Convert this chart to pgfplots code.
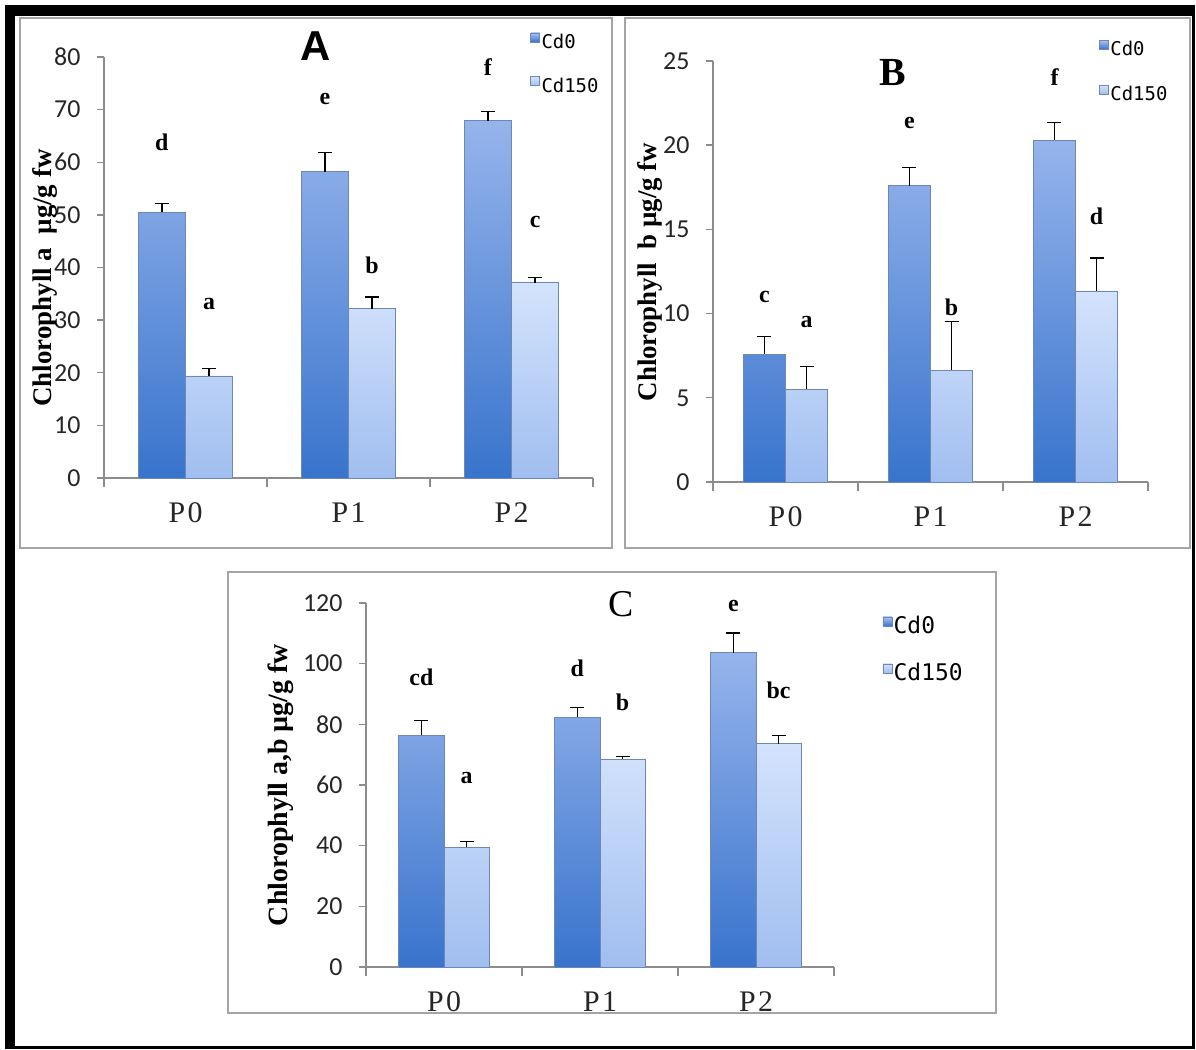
\documentclass[border=0pt]{standalone}
\usepackage{pgfplots}
\pgfplotsset{compat=1.18}
\usepackage{fontspec}
\setmainfont{Liberation Serif}
\newfontfamily\carlito{Carlito}
\newfontfamily\dmono{DejaVu Sans Mono}
\newfontfamily\lsans{Liberation Sans}
\newfontfamily\pfont[LetterSpace=8]{Liberation Serif}
\definecolor{axgray}{RGB}{140,140,140}
\definecolor{boxgray}{RGB}{165,165,165}
\definecolor{dkT}{RGB}{150,180,236}
\definecolor{dkB}{RGB}{56,116,204}
\definecolor{ltT}{RGB}{212,227,252}
\definecolor{ltB}{RGB}{160,190,240}
\definecolor{bedge}{RGB}{110,135,180}
\tikzset{lett/.style={font=\bfseries\fontsize{24}{24}\selectfont}}
\pgfplotsset{
  panel/.style={
    scale only axis, clip=false,
    axis x line=bottom, axis y line=left,
    axis line style={-, draw=axgray, line width=1.4bp},
    xmin=-0.5, xmax=2.5, ymin=0,
    xtick={0,1,2}, xticklabels={P0,P1,P2},
    minor xtick={-0.5,0.5,1.5,2.5},
    tick align=outside,
    major tick length=7bp, minor tick length=9bp,
    major x tick style={draw=none},
    minor x tick style={draw=axgray, line width=1.4bp},
    y tick style={draw=axgray, line width=1.4bp},
    ybar=0pt, bar width=0.29,
    /pgf/number format/assume math mode=true,
    yticklabel style={font=\carlito\fontsize{26}{26}\selectfont, text=black!85, xshift=-13bp},
    xticklabel style={font=\pfont\fontsize{30}{30}\selectfont, text=black!85, yshift=-14bp},
    legend cell align=left,
  },
  barcommon/.style={line width=0.6bp, draw=bedge,
    error bars/.cd, y dir=plus, y explicit,
    error bar style={black, line width=1.3bp},
    error mark options={black, rotate=90, mark size=7bp, line width=1.3bp}},
  cd0/.style={top color=dkT, bottom color=dkB, barcommon,
    /pgfplots/legend image code/.code={\fill[top color=dkT!80, bottom color=dkB] (0bp,0bp) rectangle (9bp,9bp);}},
  cd150/.style={top color=ltT, bottom color=ltB, barcommon,
    /pgfplots/legend image code/.code={\fill[top color=ltT, bottom color=ltB] (0bp,0bp) rectangle (9bp,9bp);}},
}
\begin{document}
\begin{tikzpicture}
\path[use as bounding box] (0,0) rectangle (1196bp,1050bp);
\fill[white] (0,0) rectangle (1196bp,1050bp);
% outer black frame
\fill[black] (5bp,1034bp) rectangle (1195bp,1045bp);
\fill[black] (5bp,1bp) rectangle (15bp,1045bp);
\fill[black] (1192bp,1bp) rectangle (1195bp,1045bp);
\fill[black] (5bp,1bp) rectangle (1195bp,4bp);
% panel boxes
\draw[boxgray, line width=1.5bp] (20bp,502bp) rectangle (612bp,1032bp);
\draw[boxgray, line width=1.5bp] (625bp,502bp) rectangle (1190bp,1032bp);
\draw[boxgray, line width=1.5bp] (228bp,37bp) rectangle (996bp,478bp);

% ---------------- Panel A
\begin{axis}[panel, at={(104bp,572bp)}, anchor=south west,
  width=489bp, height=421bp, ymax=80, ytick={0,10,...,80},
  legend style={draw=none, fill=none, inner sep=0pt, row sep=25bp,
    font=\dmono\fontsize{19}{19}\selectfont,
    nodes={inner sep=1.5bp},
    at={(axis cs:2.115,78.7)}, anchor=west}]
\addplot[cd0] coordinates {(0,50.5) +- (0,1.6) (1,58.2) +- (0,3.6) (2,67.9) +- (0,1.7)};
\addplot[cd150] coordinates {(0,19.4) +- (0,1.4) (1,32.2) +- (0,2.2) (2,37.1) +- (0,1.0)};
\legend{Cd0,Cd150}
\node[lett] at (axis cs:-0.145,63.8) {d};
\node[lett] at (axis cs:0.145,33) {a};
\node[lett] at (axis cs:0.855,72) {e};
\node[lett] at (axis cs:1.145,40.5) {b};
\node[lett] at (axis cs:1.855,78) {f};
\node[lett] at (axis cs:2.145,48.7) {c};
\node[font=\lsans\bfseries\fontsize{42}{42}\selectfont] at (axis cs:0.80,82.1) {A};
\end{axis}

% ---------------- Panel B
\begin{axis}[panel, at={(713bp,568bp)}, anchor=south west,
  width=435bp, height=421bp, ymax=25, ytick={0,5,...,25},
  legend style={draw=none, fill=none, inner sep=0pt, row sep=26bp,
    font=\dmono\fontsize{19}{19}\selectfont,
    nodes={inner sep=1.5bp},
    at={(axis cs:2.163,24.37)}, anchor=west}]
\addplot[cd0] coordinates {(0,7.6) +- (0,1.05) (1,17.6) +- (0,1.07) (2,20.3) +- (0,1.05)};
\addplot[cd150] coordinates {(0,5.5) +- (0,1.36) (1,6.65) +- (0,2.9) (2,11.35) +- (0,1.95)};
\legend{Cd0,Cd150}
\node[lett] at (axis cs:-0.145,11.0) {c};
\node[lett] at (axis cs:0.145,9.5) {a};
\node[lett] at (axis cs:0.855,21.3) {e};
\node[lett] at (axis cs:1.145,10.4) {b};
\node[lett] at (axis cs:1.855,24.05) {f};
\node[lett] at (axis cs:2.145,15.8) {d};
\node[font=\bfseries\fontsize{40}{40}\selectfont] at (axis cs:0.739,24.29) {B};
\end{axis}

% ---------------- Panel C
\begin{axis}[panel, at={(366bp,83bp)}, anchor=south west,
  width=468bp, height=364bp, ymax=120, ytick={0,20,...,120},
  legend style={draw=none, fill=none, inner sep=0pt, row sep=25bp,
    font=\dmono\fontsize{23}{23}\selectfont,
    nodes={inner sep=1.5bp},
    at={(axis cs:2.81,104.7)}, anchor=west}]
\addplot[cd0] coordinates {(0,76.4) +- (0,4.9) (1,82.3) +- (0,3.2) (2,103.6) +- (0,6.5)};
\addplot[cd150] coordinates {(0,39.4) +- (0,2.0) (1,68.5) +- (0,0.8) (2,73.6) +- (0,2.8)};
\legend{Cd0,Cd150}
\node[lett] at (axis cs:-0.145,95.6) {cd};
\node[lett] at (axis cs:0.145,62.2) {a};
\node[lett] at (axis cs:0.855,98.5) {d};
\node[lett] at (axis cs:1.145,87.2) {b};
\node[lett] at (axis cs:1.855,119.1) {e};
\node[lett] at (axis cs:2.145,91.2) {bc};
\node[font=\fontsize{38}{38}\selectfont] at (axis cs:1.134,119.7) {C};
\end{axis}

% y-axis labels
\node[rotate=90, font=\bfseries\fontsize{27}{27}\selectfont] at (45bp,772bp) {Chlorophyll a\ \ µg/g fw};
\node[rotate=90, font=\bfseries\fontsize{27}{27}\selectfont] at (650bp,778bp) {Chlorophyll\ \ b µg/g fw};
\node[rotate=90, font=\bfseries\fontsize{28}{28}\selectfont] at (281bp,265bp) {Chlorophyll a,b µg/g fw};
\end{tikzpicture}
\end{document}
